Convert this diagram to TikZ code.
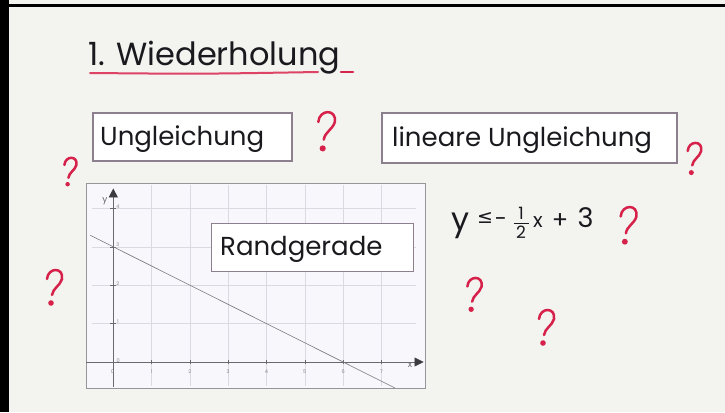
\documentclass[tikz,border=0pt]{standalone}
\usepackage{fontspec}
\setmainfont{Poppins}
\newfontfamily\symfont{DejaVu Sans}
\usetikzlibrary{arrows.meta}
\definecolor{bg}{RGB}{243,243,240}
\definecolor{qred}{RGB}{214,34,74}
\definecolor{boxline}{RGB}{140,128,142}
\definecolor{panelfill}{RGB}{248,247,251}
\definecolor{gridc}{RGB}{218,218,226}
\definecolor{axisc}{RGB}{105,105,110}
\definecolor{inkc}{RGB}{25,25,30}
\tikzset{
  labelbox/.style={draw=boxline, line width=1.5pt, fill=white, inner sep=0pt},
  boxtext/.style={anchor=base west, inner sep=0pt, text=inkc, font=\fontsize{26}{30}\selectfont},
  ticklab/.style={inner sep=0pt, text=axisc!80, font=\fontsize{5}{6}\selectfont},
  axislab/.style={inner sep=0pt, text=axisc, font=\fontsize{9}{10}\selectfont},
  axisarrow/.style={axisc, line width=0.7pt, -{Triangle[length=9pt,width=9pt,color=inkc!85]}},
  ineq/.style={inner sep=0pt, text=inkc},
  qmark/.pic={
    \draw[qred, line width=2.5pt, line cap=round]
      (-7,-10) .. controls (-6,-22) and (10,-22) .. (8,-10)
      .. controls (6,-3) and (-1,-1) .. (-2,6);
    \fill[qred] (-3,14) circle (2.8);
  }
}
\begin{document}
\begin{tikzpicture}[x=1pt, y=-1pt]
\useasboundingbox (0,0) rectangle (725,412);
\fill[bg] (0,0) rectangle (725,412);
\fill[black] (0,0) rectangle (9,412);
\fill[black] (0,4) rectangle (725,7);

% title
\node[anchor=base west, inner sep=0pt, text=inkc, font=\fontsize{32}{36}\selectfont] (title) at (88,66) {1. Wiederholung};
\draw[qred!85, line width=2pt, line cap=round] (90,73) .. controls (200,74) .. (318,72);
\draw[qred, line width=2.6pt, line cap=round] (341,72) -- (353,72);

% boxes
\node[labelbox, minimum width=199pt, minimum height=48pt] (ungl) at (192.5,137) {};
\node[boxtext] (ungltext) at (100,145) {Ungleichung};
\node[labelbox, minimum width=295pt, minimum height=50pt] (lin) at (529.5,138) {};
\node[boxtext] (lintext) at (392,146) {lineare Ungleichung};

% graph panel
\node[draw=axisc!70, line width=1pt, fill=panelfill, minimum width=339pt, minimum height=205pt, inner sep=0pt] (panel) at (255.5,285.5) {};
\begin{scope}[shift={(113.3,362)}, x=38.3pt, y=38.4pt]
  \foreach \i in {1,...,7} \draw[gridc, line width=0.6pt] (\i,-0.62) -- (\i,4.6);
  \foreach \j in {1,...,4} \draw[gridc, line width=0.6pt] (-0.55,\j) -- (7.9,\j);
  \coordinate (xs) at (-0.7,0);
  \coordinate (xe) at (8.1,0);
  \coordinate (ys) at (0,-0.64);
  \coordinate (ye) at (0,4.52);
  \draw[axisarrow] (xs) -- (xe);
  \draw[axisarrow] (ys) -- (ye);
  \foreach \i in {1,...,7} {
    \draw[axisc, line width=0.5pt] (\i,-0.06) -- (\i,0.06);
    \node[ticklab] (xl\i) at (\i,-0.26) {\i};
  }
  \node[ticklab] (xl0) at (-0.02,-0.26) {0};
  \foreach \j in {1,...,4} {
    \draw[axisc, line width=0.5pt] (-0.08,\j) -- (0.08,\j);
    \node[ticklab] (yl\j) at (0.12,\j+0.05) {\j};
  }
  \node[ticklab] (yl0) at (0.13,0.04) {0};
  \node[axislab] (xlab) at (7.75,-0.08) {x};
  \node[axislab] (ylab) at (-0.22,4.2) {y};
  \coordinate (ls) at (-0.6,3.3);
  \coordinate (le) at (7.35,-0.675);
  \draw[axisc!90, line width=0.6pt] (ls) -- (le);
\end{scope}
\node[labelbox, minimum width=201.6pt, minimum height=48.4pt] (rand) at (312.5,247.5) {};
\node[boxtext] (randtext) at (220,255) {Randgerade};

% inequality
\node[ineq, anchor=base, font=\fontsize{32}{34}\selectfont] (iy) at (461,230) {y};
\node[ineq, font=\symfont\fontsize{19}{21}\selectfont] (ile) at (485,218) {≤};
\node[ineq, font=\fontsize{22}{24}\selectfont] (iminus) at (501,222) {-};
\node[ineq, font=\fontsize{17}{19}\selectfont] (inum) at (521,213.5) {1};
\draw[inkc, line width=1pt] (514,223) -- (529,223);
\node[ineq, font=\fontsize{17}{19}\selectfont] (iden) at (521,232) {2};
\node[ineq, font=\fontsize{20}{22}\selectfont] (ix) at (538,222) {x};
\node[ineq, font=\fontsize{24}{26}\selectfont] (iplus) at (560,221) {+};
\node[ineq, anchor=base, font=\fontsize{27}{30}\selectfont] (ithree) at (585.5,227) {3};

% question marks
\pic[scale=1.1] at (326,133) {qmark};
\pic[scale=0.9] at (694,160) {qmark};
\pic[scale=0.8] at (70,173) {qmark};
\pic[scale=1.0] at (54,289) {qmark};
\pic[scale=1.05] at (628,227) {qmark};
\pic[scale=0.95] at (474,296) {qmark};
\pic[scale=1.0] at (546,329) {qmark};
\end{tikzpicture}
\end{document}
